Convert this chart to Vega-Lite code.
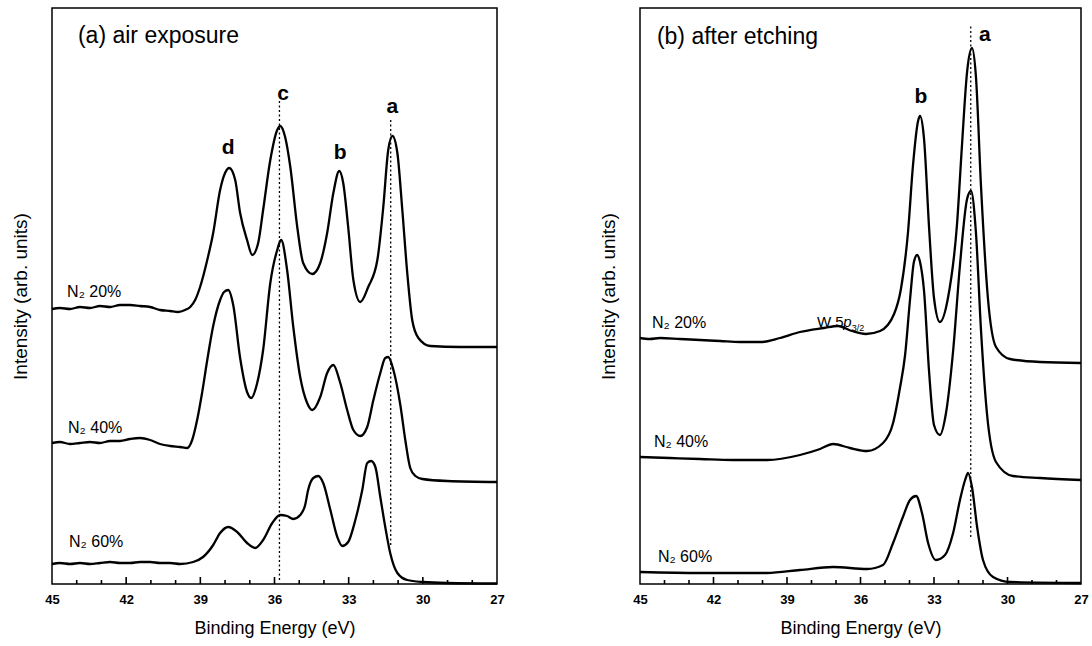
{
  "$schema": "https://vega.github.io/schema/vega-lite/v6.json",
  "background": "white",
  "padding": {"left": 10, "top": 7, "right": 8, "bottom": 4},
  "spacing": 93,
  "config": {
    "font": "Liberation Sans",
    "view": {"stroke": "black", "strokeWidth": 1.5},
    "axisX": {"domain": false, "ticks": false, "grid": false, "labelFontSize": 13, "labelFontWeight": "bold", "labelColor": "black", "labelPadding": 9, "labelFlush": false, "labelOverlap": false, "titleFontSize": 18, "titleFontWeight": "normal", "titleColor": "black", "titlePadding": 13},
    "axisY": {"domain": false, "ticks": false, "labels": false, "grid": false, "titleFontSize": 19, "titleFontWeight": "normal", "titleColor": "black", "titlePadding": 22}
  },
  "datasets": {
    "leftCurves": [
      {"s":"20","E":45.00,"y":275},{"s":"20","E":44.68,"y":276},{"s":"20","E":44.27,"y":275},{"s":"20","E":43.87,"y":277},{"s":"20","E":43.46,"y":276},{"s":"20","E":43.06,"y":278},{"s":"20","E":42.65,"y":277},{"s":"20","E":42.25,"y":279},{"s":"20","E":41.84,"y":279},{"s":"20","E":41.44,"y":278},{"s":"20","E":41.03,"y":277},{"s":"20","E":40.63,"y":274},{"s":"20","E":40.22,"y":273},{"s":"20","E":39.90,"y":272},{"s":"20","E":39.62,"y":274},{"s":"20","E":39.41,"y":277},{"s":"20","E":39.21,"y":284},{"s":"20","E":39.01,"y":297},{"s":"20","E":38.72,"y":324},{"s":"20","E":38.48,"y":351},{"s":"20","E":38.20,"y":394},{"s":"20","E":38.00,"y":411},{"s":"20","E":37.83,"y":416},{"s":"20","E":37.59,"y":404},{"s":"20","E":37.39,"y":371},{"s":"20","E":37.11,"y":344},{"s":"20","E":36.90,"y":329},{"s":"20","E":36.66,"y":341},{"s":"20","E":36.46,"y":374},{"s":"20","E":36.17,"y":424},{"s":"20","E":35.89,"y":454},{"s":"20","E":35.77,"y":458},{"s":"20","E":35.57,"y":447},{"s":"20","E":35.36,"y":417},{"s":"20","E":35.08,"y":357},{"s":"20","E":34.84,"y":321},{"s":"20","E":34.47,"y":310},{"s":"20","E":34.15,"y":321},{"s":"20","E":33.87,"y":351},{"s":"20","E":33.62,"y":391},{"s":"20","E":33.38,"y":413},{"s":"20","E":33.22,"y":401},{"s":"20","E":33.02,"y":357},{"s":"20","E":32.81,"y":304},{"s":"20","E":32.53,"y":282},{"s":"20","E":32.21,"y":297},{"s":"20","E":31.84,"y":324},{"s":"20","E":31.60,"y":377},{"s":"20","E":31.40,"y":434},{"s":"20","E":31.23,"y":448},{"s":"20","E":31.03,"y":431},{"s":"20","E":30.83,"y":374},{"s":"20","E":30.63,"y":311},{"s":"20","E":30.43,"y":264},{"s":"20","E":30.18,"y":246},{"s":"20","E":29.70,"y":238},{"s":"20","E":28.48,"y":237},{"s":"20","E":27.00,"y":237},
      {"s":"40","E":45.00,"y":141},{"s":"40","E":44.68,"y":142},{"s":"40","E":44.27,"y":140},{"s":"40","E":43.87,"y":141},{"s":"40","E":43.46,"y":142},{"s":"40","E":43.06,"y":141},{"s":"40","E":42.65,"y":143},{"s":"40","E":42.25,"y":143},{"s":"40","E":41.84,"y":145},{"s":"40","E":41.44,"y":146},{"s":"40","E":41.03,"y":144},{"s":"40","E":40.63,"y":140},{"s":"40","E":40.22,"y":138},{"s":"40","E":39.82,"y":137},{"s":"40","E":39.53,"y":136},{"s":"40","E":39.33,"y":144},{"s":"40","E":39.13,"y":164},{"s":"40","E":38.93,"y":191},{"s":"40","E":38.72,"y":224},{"s":"40","E":38.48,"y":258},{"s":"40","E":38.20,"y":284},{"s":"40","E":38.04,"y":292},{"s":"40","E":37.87,"y":294},{"s":"40","E":37.67,"y":279},{"s":"40","E":37.39,"y":226},{"s":"40","E":37.11,"y":192},{"s":"40","E":36.94,"y":186},{"s":"40","E":36.70,"y":201},{"s":"40","E":36.46,"y":234},{"s":"40","E":36.17,"y":301},{"s":"40","E":35.89,"y":334},{"s":"40","E":35.73,"y":344},{"s":"40","E":35.49,"y":314},{"s":"40","E":35.24,"y":257},{"s":"40","E":34.96,"y":207},{"s":"40","E":34.68,"y":181},{"s":"40","E":34.47,"y":174},{"s":"40","E":34.15,"y":187},{"s":"40","E":33.87,"y":211},{"s":"40","E":33.62,"y":219},{"s":"40","E":33.34,"y":201},{"s":"40","E":33.06,"y":174},{"s":"40","E":32.81,"y":154},{"s":"40","E":32.53,"y":148},{"s":"40","E":32.25,"y":157},{"s":"40","E":32.00,"y":184},{"s":"40","E":31.72,"y":211},{"s":"40","E":31.52,"y":226},{"s":"40","E":31.40,"y":227},{"s":"40","E":31.19,"y":214},{"s":"40","E":30.91,"y":179},{"s":"40","E":30.71,"y":144},{"s":"40","E":30.51,"y":116},{"s":"40","E":30.30,"y":108},{"s":"40","E":30.02,"y":105},{"s":"40","E":29.01,"y":103},{"s":"40","E":27.00,"y":102},
      {"s":"60","E":45.00,"y":20},{"s":"60","E":44.68,"y":21},{"s":"60","E":44.27,"y":20},{"s":"60","E":43.87,"y":21},{"s":"60","E":43.46,"y":20},{"s":"60","E":43.06,"y":21},{"s":"60","E":42.65,"y":22},{"s":"60","E":42.25,"y":21},{"s":"60","E":41.84,"y":21},{"s":"60","E":41.44,"y":22},{"s":"60","E":41.03,"y":22},{"s":"60","E":40.63,"y":21},{"s":"60","E":40.22,"y":21},{"s":"60","E":39.82,"y":20},{"s":"60","E":39.29,"y":22},{"s":"60","E":38.89,"y":27},{"s":"60","E":38.48,"y":39},{"s":"60","E":38.20,"y":51},{"s":"60","E":37.87,"y":57},{"s":"60","E":37.51,"y":52},{"s":"60","E":37.11,"y":41},{"s":"60","E":36.78,"y":36},{"s":"60","E":36.46,"y":44},{"s":"60","E":36.09,"y":61},{"s":"60","E":35.77,"y":69},{"s":"60","E":35.49,"y":68},{"s":"60","E":35.24,"y":65},{"s":"60","E":34.96,"y":69},{"s":"60","E":34.76,"y":79},{"s":"60","E":34.64,"y":94},{"s":"60","E":34.43,"y":106},{"s":"60","E":34.23,"y":108},{"s":"60","E":34.03,"y":101},{"s":"60","E":33.74,"y":74},{"s":"60","E":33.46,"y":47},{"s":"60","E":33.26,"y":38},{"s":"60","E":33.02,"y":42},{"s":"60","E":32.73,"y":64},{"s":"60","E":32.45,"y":94},{"s":"60","E":32.25,"y":121},{"s":"60","E":32.09,"y":123},{"s":"60","E":31.92,"y":117},{"s":"60","E":31.72,"y":87},{"s":"60","E":31.52,"y":57},{"s":"60","E":31.32,"y":31},{"s":"60","E":31.03,"y":11},{"s":"60","E":30.63,"y":4},{"s":"60","E":29.98,"y":2},{"s":"60","E":29.01,"y":1},{"s":"60","E":27.00,"y":0.5}
    ],
    "rightCurves": [
      {"s":"20","E":45.00,"y":246},{"s":"20","E":44.60,"y":245},{"s":"20","E":44.18,"y":246},{"s":"20","E":43.37,"y":245},{"s":"20","E":42.55,"y":244},{"s":"20","E":41.73,"y":243},{"s":"20","E":40.92,"y":242},{"s":"20","E":40.06,"y":242},{"s":"20","E":39.29,"y":246},{"s":"20","E":38.47,"y":252},{"s":"20","E":37.49,"y":256},{"s":"20","E":36.92,"y":258},{"s":"20","E":36.35,"y":253},{"s":"20","E":35.78,"y":250},{"s":"20","E":35.20,"y":253},{"s":"20","E":34.63,"y":270},{"s":"20","E":34.35,"y":295},{"s":"20","E":34.06,"y":352},{"s":"20","E":33.86,"y":418},{"s":"20","E":33.65,"y":463},{"s":"20","E":33.57,"y":468},{"s":"20","E":33.41,"y":446},{"s":"20","E":33.20,"y":356},{"s":"20","E":33.00,"y":286},{"s":"20","E":32.76,"y":262},{"s":"20","E":32.43,"y":286},{"s":"20","E":32.06,"y":360},{"s":"20","E":31.86,"y":438},{"s":"20","E":31.65,"y":512},{"s":"20","E":31.45,"y":536},{"s":"20","E":31.29,"y":508},{"s":"20","E":31.08,"y":397},{"s":"20","E":30.80,"y":286},{"s":"20","E":30.47,"y":237},{"s":"20","E":29.90,"y":225},{"s":"20","E":28.67,"y":222},{"s":"20","E":27.00,"y":221},
      {"s":"40","E":45.00,"y":127},{"s":"40","E":43.78,"y":126},{"s":"40","E":42.55,"y":125},{"s":"40","E":41.20,"y":124},{"s":"40","E":39.82,"y":124},{"s":"40","E":38.47,"y":129},{"s":"40","E":37.65,"y":135},{"s":"40","E":37.12,"y":140},{"s":"40","E":36.43,"y":136},{"s":"40","E":35.73,"y":133},{"s":"40","E":35.08,"y":141},{"s":"40","E":34.67,"y":161},{"s":"40","E":34.39,"y":196},{"s":"40","E":34.18,"y":229},{"s":"40","E":33.98,"y":284},{"s":"40","E":33.82,"y":322},{"s":"40","E":33.69,"y":329},{"s":"40","E":33.57,"y":322},{"s":"40","E":33.41,"y":294},{"s":"40","E":33.20,"y":212},{"s":"40","E":33.00,"y":159},{"s":"40","E":32.76,"y":149},{"s":"40","E":32.51,"y":171},{"s":"40","E":32.22,"y":233},{"s":"40","E":31.94,"y":319},{"s":"40","E":31.65,"y":385},{"s":"40","E":31.49,"y":393},{"s":"40","E":31.29,"y":352},{"s":"40","E":31.08,"y":253},{"s":"40","E":30.84,"y":171},{"s":"40","E":30.47,"y":122},{"s":"40","E":29.78,"y":108},{"s":"40","E":28.67,"y":106},{"s":"40","E":27.00,"y":104},
      {"s":"60","E":45.00,"y":12},{"s":"60","E":42.55,"y":11},{"s":"60","E":39.82,"y":11},{"s":"60","E":38.47,"y":14},{"s":"60","E":37.12,"y":17},{"s":"60","E":35.73,"y":15},{"s":"60","E":35.08,"y":19},{"s":"60","E":34.67,"y":41},{"s":"60","E":34.27,"y":67},{"s":"60","E":33.98,"y":84},{"s":"60","E":33.73,"y":88},{"s":"60","E":33.49,"y":71},{"s":"60","E":33.24,"y":41},{"s":"60","E":32.92,"y":24},{"s":"60","E":32.55,"y":29},{"s":"60","E":32.22,"y":51},{"s":"60","E":31.94,"y":84},{"s":"60","E":31.73,"y":104},{"s":"60","E":31.61,"y":111},{"s":"60","E":31.45,"y":97},{"s":"60","E":31.24,"y":57},{"s":"60","E":31.00,"y":24},{"s":"60","E":30.59,"y":7},{"s":"60","E":29.90,"y":2},{"s":"60","E":27.00,"y":1}
    ],
    "leftTicks": [{"E":44,"y":0,"y2":4},{"E":43,"y":0,"y2":4},{"E":42,"y":0,"y2":7},{"E":41,"y":0,"y2":4},{"E":40,"y":0,"y2":4},{"E":39,"y":0,"y2":7},{"E":38,"y":0,"y2":4},{"E":37,"y":0,"y2":4},{"E":36,"y":0,"y2":7},{"E":35,"y":0,"y2":4},{"E":34,"y":0,"y2":4},{"E":33,"y":0,"y2":7},{"E":32,"y":0,"y2":4},{"E":31,"y":0,"y2":4},{"E":30,"y":0,"y2":7},{"E":29,"y":0,"y2":4},{"E":28,"y":0,"y2":4}],
    "rightTicks": [{"E":44,"y":0,"y2":4},{"E":43,"y":0,"y2":4},{"E":42,"y":0,"y2":7},{"E":41,"y":0,"y2":4},{"E":40,"y":0,"y2":4},{"E":39,"y":0,"y2":7},{"E":38,"y":0,"y2":4},{"E":37,"y":0,"y2":4},{"E":36,"y":0,"y2":7},{"E":35,"y":0,"y2":4},{"E":34,"y":0,"y2":4},{"E":33,"y":0,"y2":7},{"E":32,"y":0,"y2":4},{"E":31,"y":0,"y2":4},{"E":30,"y":0,"y2":7},{"E":29,"y":0,"y2":4},{"E":28,"y":0,"y2":4}],
    "leftDots": [{"E":35.8,"y":4,"y2":484},{"E":31.3,"y":39,"y2":466}],
    "rightDots": [{"E":31.5,"y":47,"y2":559}],
    "leftPeaks": [{"E":37.87,"y":436,"t":"d"},{"E":35.65,"y":490,"t":"c"},{"E":33.34,"y":431,"t":"b"},{"E":31.23,"y":477,"t":"a"}],
    "rightPeaks": [{"E":33.53,"y":487,"t":"b"},{"E":30.92,"y":549,"t":"a"}],
    "leftTitle": [{"E":43.95,"y":541,"t":"(a) air exposure"}],
    "rightTitle": [{"E":44.31,"y":540,"t":"(b) after etching"}],
    "leftN": [{"E":44.39,"y":287,"t":"N₂ 20%"},{"E":44.35,"y":151,"t":"N₂ 40%"},{"E":44.31,"y":37,"t":"N₂ 60%"}],
    "rightN": [{"E":44.51,"y":256,"t":"N₂ 20%"},{"E":44.43,"y":137,"t":"N₂ 40%"},{"E":44.27,"y":22,"t":"N₂ 60%"}],
    "wMain": [{"E":37.78,"y":257,"t":"W 5"}],
    "wItalic": [{"E":36.70,"y":257,"t":"p"}],
    "wSub": [{"E":36.36,"y":253,"t":"3/2"}]
  },
  "hconcat": [
    {
      "width": 445,
      "height": 576,
      "layer": [
        {
          "data": {"name": "leftCurves"},
          "mark": {"type": "line", "color": "black", "strokeWidth": 2.3, "strokeJoin": "round", "interpolate": "monotone"},
          "encoding": {
            "x": {"field": "E", "type": "quantitative", "scale": {"domain": [27, 45], "reverse": true, "nice": false, "zero": false}, "title": "Binding Energy (eV)", "axis": {"values": [45, 42, 39, 36, 33, 30, 27]}},
            "y": {"field": "y", "type": "quantitative", "scale": {"domain": [0, 576], "nice": false, "zero": false}, "title": "Intensity (arb. units)"},
            "detail": {"field": "s"}
          }
        },
        {
          "data": {"name": "leftDots"},
          "mark": {"type": "rule", "color": "black", "strokeWidth": 1.3, "strokeDash": [2, 2.5]},
          "encoding": {"x": {"field": "E", "type": "quantitative"}, "y": {"field": "y", "type": "quantitative"}, "y2": {"field": "y2"}}
        },
        {
          "data": {"name": "leftTicks"},
          "mark": {"type": "rule", "color": "black", "strokeWidth": 1.6},
          "encoding": {"x": {"field": "E", "type": "quantitative"}, "y": {"field": "y", "type": "quantitative"}, "y2": {"field": "y2"}}
        },
        {
          "data": {"name": "leftPeaks"},
          "mark": {"type": "text", "fontSize": 21, "fontWeight": "bold", "align": "center", "baseline": "middle", "color": "black"},
          "encoding": {"x": {"field": "E", "type": "quantitative"}, "y": {"field": "y", "type": "quantitative"}, "text": {"field": "t"}}
        },
        {
          "data": {"name": "leftTitle"},
          "mark": {"type": "text", "fontSize": 23, "align": "left", "baseline": "alphabetic", "color": "black"},
          "encoding": {"x": {"field": "E", "type": "quantitative"}, "y": {"field": "y", "type": "quantitative"}, "text": {"field": "t"}}
        },
        {
          "data": {"name": "leftN"},
          "mark": {"type": "text", "fontSize": 16, "align": "left", "baseline": "alphabetic", "color": "black"},
          "encoding": {"x": {"field": "E", "type": "quantitative"}, "y": {"field": "y", "type": "quantitative"}, "text": {"field": "t"}}
        }
      ]
    },
    {
      "width": 441,
      "height": 576,
      "layer": [
        {
          "data": {"name": "rightCurves"},
          "mark": {"type": "line", "color": "black", "strokeWidth": 2.3, "strokeJoin": "round", "interpolate": "monotone"},
          "encoding": {
            "x": {"field": "E", "type": "quantitative", "scale": {"domain": [27, 45], "reverse": true, "nice": false, "zero": false}, "title": "Binding Energy (eV)", "axis": {"values": [45, 42, 39, 36, 33, 30, 27]}},
            "y": {"field": "y", "type": "quantitative", "scale": {"domain": [0, 576], "nice": false, "zero": false}, "title": "Intensity (arb. units)"},
            "detail": {"field": "s"}
          }
        },
        {
          "data": {"name": "rightDots"},
          "mark": {"type": "rule", "color": "black", "strokeWidth": 1.3, "strokeDash": [2, 2.5]},
          "encoding": {"x": {"field": "E", "type": "quantitative"}, "y": {"field": "y", "type": "quantitative"}, "y2": {"field": "y2"}}
        },
        {
          "data": {"name": "rightTicks"},
          "mark": {"type": "rule", "color": "black", "strokeWidth": 1.6},
          "encoding": {"x": {"field": "E", "type": "quantitative"}, "y": {"field": "y", "type": "quantitative"}, "y2": {"field": "y2"}}
        },
        {
          "data": {"name": "rightPeaks"},
          "mark": {"type": "text", "fontSize": 21, "fontWeight": "bold", "align": "center", "baseline": "middle", "color": "black"},
          "encoding": {"x": {"field": "E", "type": "quantitative"}, "y": {"field": "y", "type": "quantitative"}, "text": {"field": "t"}}
        },
        {
          "data": {"name": "rightTitle"},
          "mark": {"type": "text", "fontSize": 23, "align": "left", "baseline": "alphabetic", "color": "black"},
          "encoding": {"x": {"field": "E", "type": "quantitative"}, "y": {"field": "y", "type": "quantitative"}, "text": {"field": "t"}}
        },
        {
          "data": {"name": "rightN"},
          "mark": {"type": "text", "fontSize": 16, "align": "left", "baseline": "alphabetic", "color": "black"},
          "encoding": {"x": {"field": "E", "type": "quantitative"}, "y": {"field": "y", "type": "quantitative"}, "text": {"field": "t"}}
        },
        {
          "data": {"name": "wMain"},
          "mark": {"type": "text", "fontSize": 15, "align": "left", "baseline": "alphabetic", "color": "black"},
          "encoding": {"x": {"field": "E", "type": "quantitative"}, "y": {"field": "y", "type": "quantitative"}, "text": {"field": "t"}}
        },
        {
          "data": {"name": "wItalic"},
          "mark": {"type": "text", "fontSize": 15, "fontStyle": "italic", "align": "left", "baseline": "alphabetic", "color": "black"},
          "encoding": {"x": {"field": "E", "type": "quantitative"}, "y": {"field": "y", "type": "quantitative"}, "text": {"field": "t"}}
        },
        {
          "data": {"name": "wSub"},
          "mark": {"type": "text", "fontSize": 9, "align": "left", "baseline": "alphabetic", "color": "black"},
          "encoding": {"x": {"field": "E", "type": "quantitative"}, "y": {"field": "y", "type": "quantitative"}, "text": {"field": "t"}}
        }
      ]
    }
  ]
}
